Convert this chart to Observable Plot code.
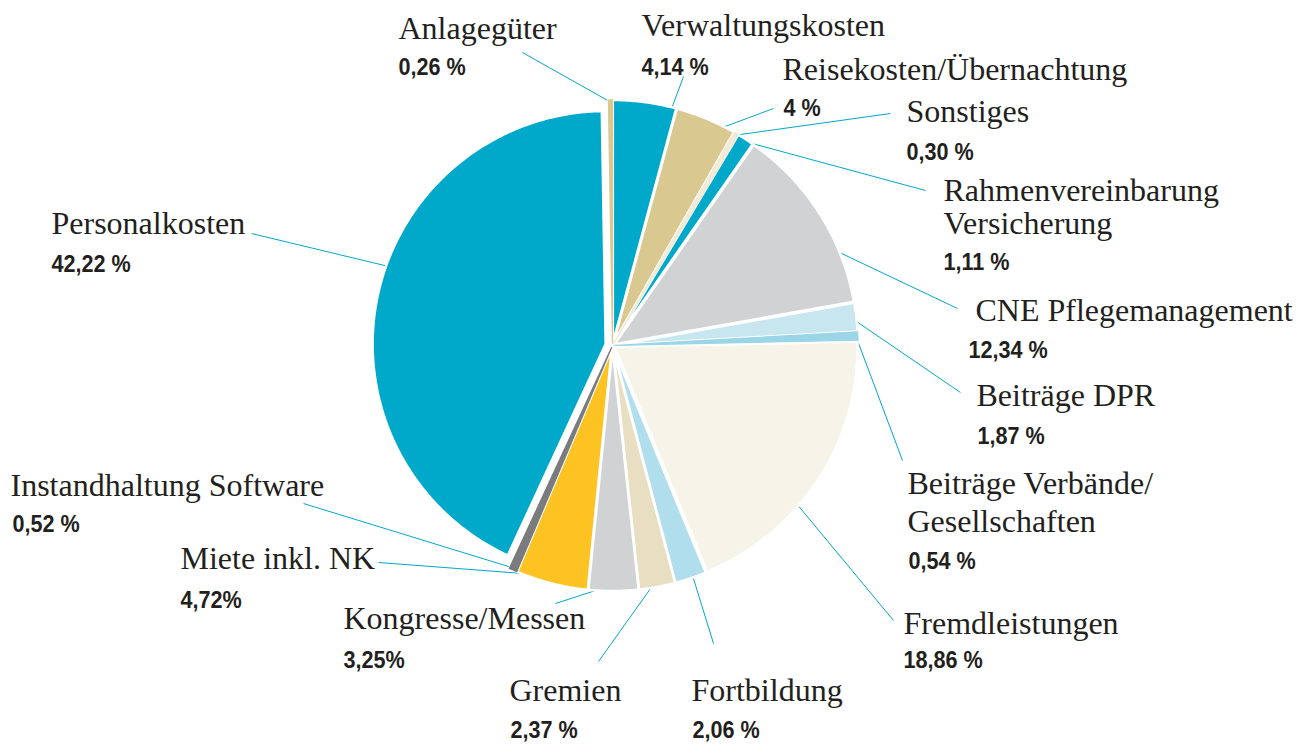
<!DOCTYPE html>
<html><head><meta charset="utf-8">
<script src="https://cdn.jsdelivr.net/npm/d3@7"></script>
<script src="https://cdn.jsdelivr.net/npm/@observablehq/plot@0.6"></script>
<style>html,body{margin:0;padding:0;background:#fff;}</style>
</head><body><div id="chart"></div>
<script>
// ---- data ----
const categories = ["Verwaltungskosten", "Reisekosten/Übernachtung", "Sonstiges", "Rahmenvereinbarung Versicherung", "CNE Pflegemanagement", "Beiträge DPR", "Beiträge Verbände/Gesellschaften", "Fremdleistungen", "Fortbildung", "Gremien", "Kongresse/Messen", "Miete inkl. NK", "Instandhaltung Software", "Personalkosten", "Anlagegüter"];
const shares = [4.14, 4, 0.30, 1.11, 12.34, 1.87, 0.54, 18.86, 2.06, 2.37, 3.25, 4.72, 0.52, 42.22, 0.26];
const valueLabels = ["4,14 %", "4 %", "0,30 %", "1,11 %", "12,34 %", "1,87 %", "0,54 %", "18,86 %", "2,06 %", "2,37 %", "3,25%", "4,72%", "0,52 %", "42,22 %", "0,26 %"];
const nameLines = [["Verwaltungskosten"], ["Reisekosten/Übernachtung"], ["Sonstiges"], ["Rahmenvereinbarung", "Versicherung"], ["CNE Pflegemanagement"], ["Beiträge DPR"], ["Beiträge Verbände/", "Gesellschaften"], ["Fremdleistungen"], ["Fortbildung"], ["Gremien"], ["Kongresse/Messen"], ["Miete inkl. NK"], ["Instandhaltung Software"], ["Personalkosten"], ["Anlagegüter"]];
const colors = ["#00a8ca", "#dac891", "#f1ead6", "#00a8ca", "#d1d2d4", "#c8e6f0", "#9ad6e8", "#f6f4e9", "#b1deed", "#e8dfc3", "#d1d2d4", "#fdc323", "#7a7b7e", "#00a8ca", "#dac891"];

// ---- layout (label placement, leader ends, leader position inside slice) ----
const labelX = [641, 782, 906, 943, 975, 976, 907, 903, 691, 509, 343, 180, 10, 51, 398];
const nameBase = [[35], [79], [121], [200, 233], [320], [405], [493, 531], [633], [700], [700], [628], [568], [495], [233], [38]];
const valueX = [641, 783, 906, 943, 968, 977, 908, 903, 692, 510, 343, 180, 12, 51, 398];
const valueBase = [74, 115, 159, 269, 357, 443, 568, 667, 737, 737, 667, 607, 531, 271, 74];
const leaderEnd = [[683, 76], [773, 108], [890, 113], [925, 190], [957, 308], [960, 392], [902, 460], [893, 620], [713, 643], [598, 661], [555, 603], [378, 562], [303, 503], [251, 233], [522, 52]];
const leaderT = [0.93, 0.79, 0.5, 0.6, 0.72, 0.6, 0.5, 0.61, 0.42, 0.62, 0.75, 0.85, 0.5, 0.55, 0.5];

const W = 1312, H = 744, CX = 612, CY = 345, R = 243, EXPLODE = 2.5;
const special = {"Personalkosten": {r: 233, off: 7}};

const rows = categories.map((name, i) => ({name, share: shares[i], i}));
const arcs = d3.pie().sort(null).value(d => d.share)(rows);

const slicePts = [];
const leaders = [];
for (const a of arcs) {
  const name = a.data.name;
  const sp = special[name] || {r: R, off: EXPLODE};
  const mid = (a.startAngle + a.endAngle) / 2;
  const ox = CX + sp.off * Math.sin(mid), oy = CY - sp.off * Math.cos(mid);
  const pts = [[ox, oy]];
  const n = Math.max(2, Math.ceil((a.endAngle - a.startAngle) / (Math.PI / 360)));
  for (let k = 0; k <= n; k++) {
    const t = a.startAngle + (a.endAngle - a.startAngle) * k / n;
    pts.push([ox + sp.r * Math.sin(t), oy - sp.r * Math.cos(t)]);
  }
  pts.push([ox, oy]);
  pts.forEach(([x, y], k) => slicePts.push({name, share: a.data.share, x, y, k}));
  const i = a.data.i;
  const la = a.startAngle + (a.endAngle - a.startAngle) * leaderT[i];
  leaders.push({name, x1: ox + (sp.r - 2) * Math.sin(la), y1: oy - (sp.r - 2) * Math.cos(la), x2: leaderEnd[i][0], y2: leaderEnd[i][1]});
}
const thinPts = slicePts.filter(d => d.share < 1);

const nameRows = [];
categories.forEach((c, i) => nameLines[i].forEach((line, j) => nameRows.push({text: line, x: labelX[i], y: nameBase[i][j]})));
const valueRows = categories.map((c, i) => ({text: valueLabels[i], x: valueX[i], y: valueBase[i]}));

const chart = Plot.plot({
  width: W, height: H,
  margin: 0,
  x: {domain: [0, W], range: [0, W], axis: null},
  y: {domain: [0, H], range: [0, H], axis: null},
  color: {domain: categories, range: colors},
  marks: [
    Plot.link(leaders, {x1: "x1", y1: "y1", x2: "x2", y2: "y2", stroke: "#00a8ca", strokeWidth: 1}),
    Plot.line(slicePts, {x: "x", y: "y", z: "name", fill: "name", stroke: "white", strokeWidth: 2.5, strokeLinejoin: "miter", curve: "linear"}),
    Plot.line(thinPts, {x: "x", y: "y", z: "name", fill: "name", stroke: "name", strokeWidth: 1.3, curve: "linear"}),
    Plot.text(nameRows, {x: "x", y: "y", text: "text", textAnchor: "start", lineAnchor: "bottom", fontFamily: "'Liberation Serif', 'Times New Roman', serif", fontSize: 32, fill: "#231f20"}),
    Plot.text(valueRows, {x: "x", y: "y", text: "text", textAnchor: "start", lineAnchor: "bottom", fontFamily: "'Liberation Sans', Arial, sans-serif", fontWeight: "bold", fontSize: 24, fill: "#231f20"})
  ]
});
document.getElementById("chart").appendChild(chart);
// condense the bold value labels horizontally (like a condensed face)
const textGroups = chart.querySelectorAll('g[aria-label="text"]');
const valueGroup = textGroups[textGroups.length - 1];
valueGroup.querySelectorAll("text").forEach(el => {
  const len = el.getComputedTextLength();
  el.setAttribute("textLength", (len * 0.9).toFixed(1));
  el.setAttribute("lengthAdjust", "spacingAndGlyphs");
});
</script>
</body></html>
